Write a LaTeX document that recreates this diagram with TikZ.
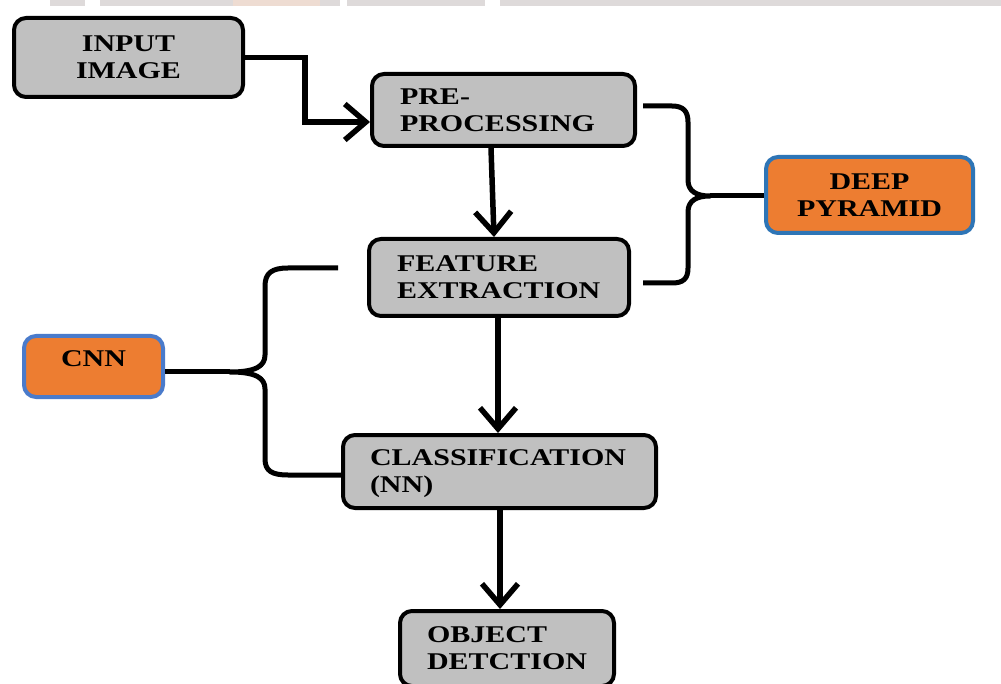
\documentclass[tikz,border=0pt]{standalone}
\usepackage{fontspec}
\setmainfont{Liberation Serif}
\usepackage{graphicx}
\usetikzlibrary{arrows.meta}
\definecolor{boxgray}{HTML}{C0C0C0}
\definecolor{accent}{HTML}{ED7D31}
\definecolor{rimblue}{HTML}{2E75B6}
\definecolor{rimblue2}{HTML}{4A7BCB}
\definecolor{band}{HTML}{DEDADA}
\definecolor{bandwarm}{HTML}{EEDCD2}
\newcommand\wide[1]{\scalebox{1.25}[1]{#1}}

\begin{document}
\begin{tikzpicture}[x=1pt,y=-1pt,
  lbl/.style={font=\bfseries\fontsize{24}{27}\selectfont},
  graybox/.style={lbl, draw=black, line width=4pt, fill=boxgray,
    rounded corners=12pt, inner ysep=0pt, align=left},
  tagbox/.style={lbl, draw=rimblue, line width=4pt, fill=accent,
    rounded corners=12pt, inner ysep=0pt, align=center},
  flow/.style={line width=5.5pt, -{Straight Barb[length=21pt, width=36pt]}},
  brace/.style={line width=5pt, line join=round}]

\useasboundingbox (0,0) rectangle (1001,684);
\fill[white] (0,0) rectangle (1001,684);
\clip (0,0) rectangle (1001,684);

% faint strip along the top edge
\fill[band] (50,0) rectangle (85,6);
\fill[band] (100,0) rectangle (340,6);
\fill[bandwarm] (233,0) rectangle (320,6);
\fill[band] (347,0) rectangle (485,6);
\fill[band] (500,0) rectangle (1001,6);

% process boxes
\node[graybox, align=center, text width=209pt, inner xsep=10pt, minimum height=79pt]
  (inp) at (128.5,57.5) {\wide{INPUT}\\\wide{IMAGE}};
\node[graybox, text width=207pt, inner xsep=28pt, minimum height=72pt]
  (pre) at (503.5,110) {\wide{PRE-}\\\wide{PROCESSING}};
\node[graybox, text width=204pt, inner xsep=28pt, minimum height=77pt]
  (feat) at (499,277.5) {\wide{FEATURE}\\\wide{EXTRACTION}};
\node[graybox, text width=259pt, inner xsep=27pt, minimum height=73pt, text depth=27pt]
  (cls) at (499.5,471.5) {\wide{CLASSIFICATION}\\\wide{(NN)}};
\node[graybox, text width=160pt, inner xsep=27pt, minimum height=75pt]
  (obj) at (507,648.5) {\wide{OBJECT}\\\wide{DETCTION}};

% method tags
\node[tagbox, text width=187pt, inner xsep=10pt, minimum height=76pt]
  (deep) at (869.5,195) {\wide{DEEP}\\\wide{PYRAMID}};
\node[tagbox, draw=rimblue2, text width=119pt, inner xsep=10pt, minimum height=61pt,
  text depth=16pt] (cnn) at (93.5,366.5) {\wide{CNN}};

% flow arrows
\coordinate (bend) at (305,122);
\draw[flow] (inp.east) -| (bend) -- (pre.west |- bend);
\draw[flow] (491,0 |- pre.south) -- (494,0 |- feat.north);
\draw[flow] (498,0 |- feat.south) -- (498,0 |- cls.north);
\draw[flow] (500,0 |- cls.south) -- (500,0 |- obj.north);

% right brace grouping pre-processing and feature extraction
\coordinate (rbTop) at (643,106);
\coordinate (rbBot) at (643,283);
\coordinate (rbTip) at (710,196);
\draw[brace] (rbTop) -- (672,106) .. controls (683,106) and (688,111) .. (688,122)
  -- (688,180) .. controls (688,191) and (696,196) .. (rbTip)
  .. controls (696,196) and (688,201) .. (688,212)
  -- (688,268) .. controls (688,279) and (683,283) .. (672,283) -- (rbBot);
\draw[brace] (rbTip) -- (deep.west |- rbTip);

% left brace grouping feature extraction and classification
\coordinate (lbTop) at (338,268);
\coordinate (lbBot) at (341,475);
\coordinate (lbTip) at (230,372);
\draw[brace] (lbTop) -- (288,268) .. controls (272,268) and (265,273) .. (265,286)
  -- (265,355) .. controls (265,366) and (256,372) .. (lbTip)
  .. controls (256,372) and (265,378) .. (265,389)
  -- (265,459) .. controls (265,471) and (272,475) .. (288,475) -- (lbBot);
\draw[brace] (lbTip) -- (cnn.east |- lbTip);

\end{tikzpicture}
\end{document}
